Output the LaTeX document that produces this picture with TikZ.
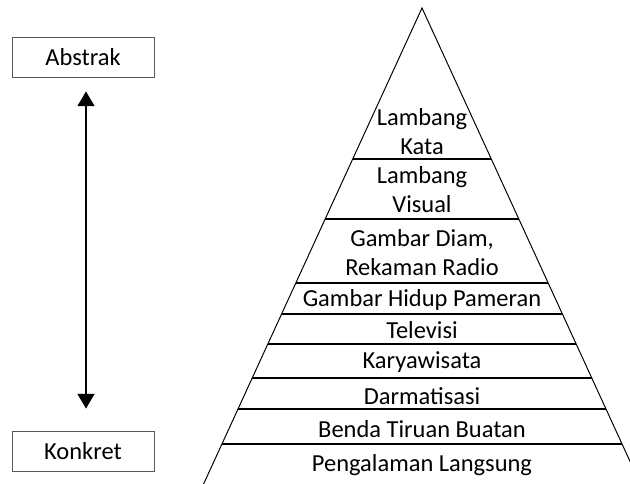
\documentclass[tikz,border=0pt]{standalone}
\usepackage{fontspec}
\setmainfont{Carlito}
\usetikzlibrary{positioning, calc, arrows.meta}

\tikzset{
    label box/.style={draw=black!65, line width=0.6pt, minimum width=3.55cm, minimum height=1cm, inner sep=0pt},
    layer text/.style={align=center, inner sep=0pt},
    layer line/.style={line width=1.4pt},
}

\begin{document}
\begin{tikzpicture}[scale=1.0, font=\fontsize{17.4}{20.6}\selectfont]
    \useasboundingbox (0,0) rectangle (15.75,12.1);
    \clip (0,0) rectangle (15.75,12.1);

    % pyramid
    \coordinate (apex) at (10.55,11.9);
    \coordinate (bl) at (5.09,0);
    \coordinate (br) at (16.01,0);
    \draw[line width=0.7pt] (bl) -- (apex) -- (br);

    % layer borders
    \foreach \h in {8.125, 6.625, 5.025, 4.25, 3.5, 2.65, 1.875, 1.0}
        \draw[layer line] ($(apex)!{(11.9-\h)/11.9}!(bl)$) -- ($(apex)!{(11.9-\h)/11.9}!(br)$);

    % layer labels, top to bottom
    \node[layer text] (kata) at (10.55,8.81) {Lambang\\Kata};
    \node[layer text] (visual) at (10.55,7.36) {Lambang\\Visual};
    \node[layer text] (diam) at (10.55,5.79) {Gambar Diam,\\Rekaman Radio};
    \node[layer text] (hidup) at (10.55,4.6) {Gambar Hidup Pameran};
    \node[layer text] (tv) at (10.55,3.85) {Televisi};
    \node[layer text] (wisata) at (10.55,3.05) {Karyawisata};
    \node[layer text] (drama) at (10.55,2.2) {Darmatisasi};
    \node[layer text] (tiruan) at (10.55,1.375) {Benda Tiruan Buatan};
    \node[layer text] (langsung) at (10.55,0.475) {Pengalaman Langsung};

    % abstract / concrete scale
    \node[label box] (abstrak) at (2.075,10.675) {Abstrak};
    \node[label box] (konkret) at (2.075,0.825) {Konkret};
    \draw[{Triangle[length=10.5pt,width=12pt]}-{Triangle[length=10.5pt,width=12pt]}, line width=1.4pt]
        ($(abstrak.south)+(0.075,-0.35)$) -- ($(konkret.north)+(0.075,0.55)$);
\end{tikzpicture}
\end{document}
